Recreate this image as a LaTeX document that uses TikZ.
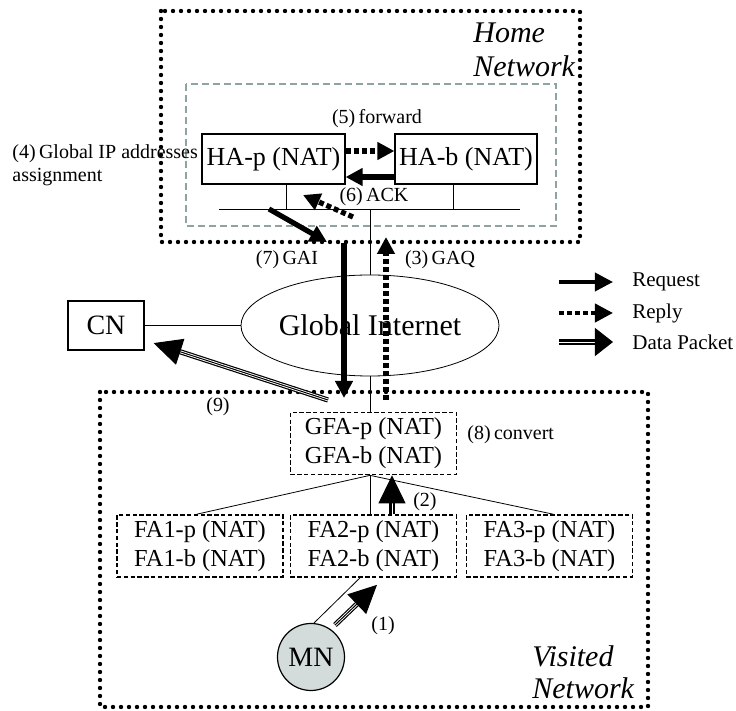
\documentclass[tikz,border=0pt]{standalone}
\usepackage{fontspec}
\setmainfont{Liberation Serif}
\usepackage{tikz}
\usetikzlibrary{arrows.meta}
\usetikzlibrary{shapes.geometric}
\definecolor{mnfill}{HTML}{D3DCDA}
\definecolor{hagray}{HTML}{8FA4A2}
\tikzset{
  box/.style={draw, line width=0.6pt, inner sep=0pt},
  fabox/.style={draw, dash pattern=on 2.2pt off 1.2pt, line width=0.85pt, inner sep=1pt,
    minimum width=83pt, minimum height=31pt, align=center, font=\fontsize{12.2}{14.5}\selectfont},
  netbox/.style={line width=2.2pt, line cap=round, dash pattern=on 0pt off 4pt},
  hadash/.style={hagray, line width=1pt, dash pattern=on 3.5pt off 2pt},
  req/.style={line width=2.6pt, -{Triangle[length=8.5pt,width=8.5pt]}},
  rep/.style={line width=2.6pt, dash pattern=on 2.5pt off 1.5pt, -{Triangle[length=8.5pt,width=8.5pt]}},
  pkt/.style={line width=0.5pt, -{Triangle[length=14pt,width=13.5pt]},
    preaction={draw, -, line width=2.6pt, shorten >=8pt},
    preaction={draw, -, white, line width=1.4pt, shorten >=8pt}},
  lbl/.style={font=\fontsize{10}{11.5}\selectfont, inner sep=0pt}
}
\begin{document}
\begin{tikzpicture}[x=0.5pt,y=-0.5pt]
\useasboundingbox (0,0) rectangle (736,711);
\draw[netbox] (161,11) rectangle (580,242);
\draw[netbox] (100,392) rectangle (648,707);
\draw[hadash] (186,84) rectangle (556,226);
\node[box, minimum width=71.5pt, minimum height=25pt, font=\fontsize{13}{15}\selectfont] (HAp) at (273.5,159) {HA-p (NAT)};
\node[box, minimum width=71pt, minimum height=25pt, font=\fontsize{13}{15}\selectfont] (HAb) at (466,159) {HA-b (NAT)};
\coordinate (busL) at (219,209);
\coordinate (busR) at (520,209);
\draw (busL) -- (busR);
\draw ([xshift=6.25pt]HAp.south) -- ([xshift=6.25pt]HAp.south |- busL);
\draw ([xshift=-6.5pt]HAb.south) -- ([xshift=-6.5pt]HAb.south |- busL);
\node[draw, ellipse, minimum width=125pt, minimum height=50.5pt, inner sep=0pt, font=\fontsize{15}{18}\selectfont] (inet) at (370,325.5) {Global Internet};
\draw (inet.north) -- (inet.north |- busL);
\node[box, minimum width=38pt, minimum height=24.5pt, font=\fontsize{14}{16}\selectfont] (CN) at (106,325.5) {CN};
\draw (CN.east) -- (inet.west);
\node[fabox] (GFA) at (373.5,443.5) {GFA-p (NAT)\\GFA-b (NAT)};
\draw (inet.south) -- (inet.south |- GFA.north);
\coordinate (gfab) at (GFA.south -| inet.south);
\node[fabox] (FA1) at (200,546) {FA1-p (NAT)\\FA1-b (NAT)};
\node[fabox] (FA2) at (373.5,546) {FA2-p (NAT)\\FA2-b (NAT)};
\node[fabox] (FA3) at (549.5,546) {FA3-p (NAT)\\FA3-b (NAT)};
\draw (gfab) -- ([xshift=-1.5pt]FA1.north);
\draw (gfab) -- (gfab |- FA2.north);
\draw (gfab) -- ([xshift=1.75pt]FA3.north);
\node[circle, draw, line width=0.6pt, fill=mnfill, minimum size=33.5pt, inner sep=0pt, font=\fontsize{14}{16}\selectfont] (MN) at (311,657) {MN};
\draw (MN.85) -- ([xshift=-6.75pt]FA2.south);
\draw[rep] ([yshift=4pt]HAp.east) -- ([yshift=4pt]HAb.west);
\draw[req] ([yshift=-9pt]HAb.west) -- ([yshift=-9pt]HAp.east);
\coordinate (ack0) at (353,217);
\coordinate (ack1) at (303,195);
\draw[rep] (ack0) -- (ack1);
\coordinate (gai0) at (269,209);
\coordinate (gai1) at (327,242);
\draw[req] (gai0) -- (gai1);
\coordinate (gai2) at (344,243);
\coordinate (gai3) at (344,398);
\draw[req] (gai2) -- (gai3);
\coordinate (gaq0) at (386,400);
\coordinate (gaq1) at (386,237);
\draw[rep] (gaq0) -- (gaq1);
\coordinate (pkt9) at (328,400);
\draw[pkt] (pkt9) -- ([shift={(4.5pt,3.75pt)}]CN.south east);
\draw[pkt] ([xshift=9.25pt]FA2.north) -- ([xshift=9.25pt]GFA.south);
\coordinate (pkt1) at (335,625);
\draw[pkt] (pkt1) -- ([shift={(1.75pt,-3.5pt)}]FA2.south);
\node[lbl, anchor=west, align=left] (lab4) at (12,165) {(4)\,Global IP addresses\\assignment};
\node[lbl] (lab5) at (377,119) {(5)\,forward};
\node[lbl] (lab6) at (374,197) {(6)\,ACK};
\node[lbl] (lab7) at (287,260) {(7)\,GAI};
\node[lbl] (lab3) at (440,260) {(3)\,GAQ};
\node[lbl, anchor=west] (lab8) at (467,435) {(8)\,convert};
\node[lbl] (lab9) at (218,407) {(9)};
\node[lbl] (lab2) at (425,502) {(2)};
\node[lbl] (lab1) at (383,626) {(1)};
\node[anchor=west, align=left, inner sep=0pt, font=\itshape\fontsize{15}{17}\selectfont] (home) at (473,50) {Home\\Network};
\node[anchor=west, align=left, inner sep=0pt, font=\itshape\fontsize{15}{16}\selectfont] (visit) at (532,672) {Visited\\Network};
\coordinate (lg1a) at (559,282);
\coordinate (lg1b) at (613,282);
\coordinate (lg2a) at (559,313);
\coordinate (lg2b) at (613,313);
\coordinate (lg3a) at (559,342);
\coordinate (lg3b) at (613,342);
\draw[req, line width=1.8pt, -{Triangle[length=9pt,width=9pt]}] (lg1a) -- (lg1b);
\draw[rep, line width=2pt, -{Triangle[length=9pt,width=9pt]}] (lg2a) -- (lg2b);
\draw[pkt, -{Triangle[length=9pt,width=14pt]}] (lg3a) -- (lg3b);
\node[lbl, anchor=west, font=\fontsize{10.5}{12}\selectfont] (lgreq) at (632,282) {Request};
\node[lbl, anchor=west, font=\fontsize{10.5}{12}\selectfont] (lgrep) at (632,313) {Reply};
\node[lbl, anchor=west, font=\fontsize{10.5}{12}\selectfont] (lgpkt) at (632,342) {Data Packet};
\end{tikzpicture}
\end{document}
